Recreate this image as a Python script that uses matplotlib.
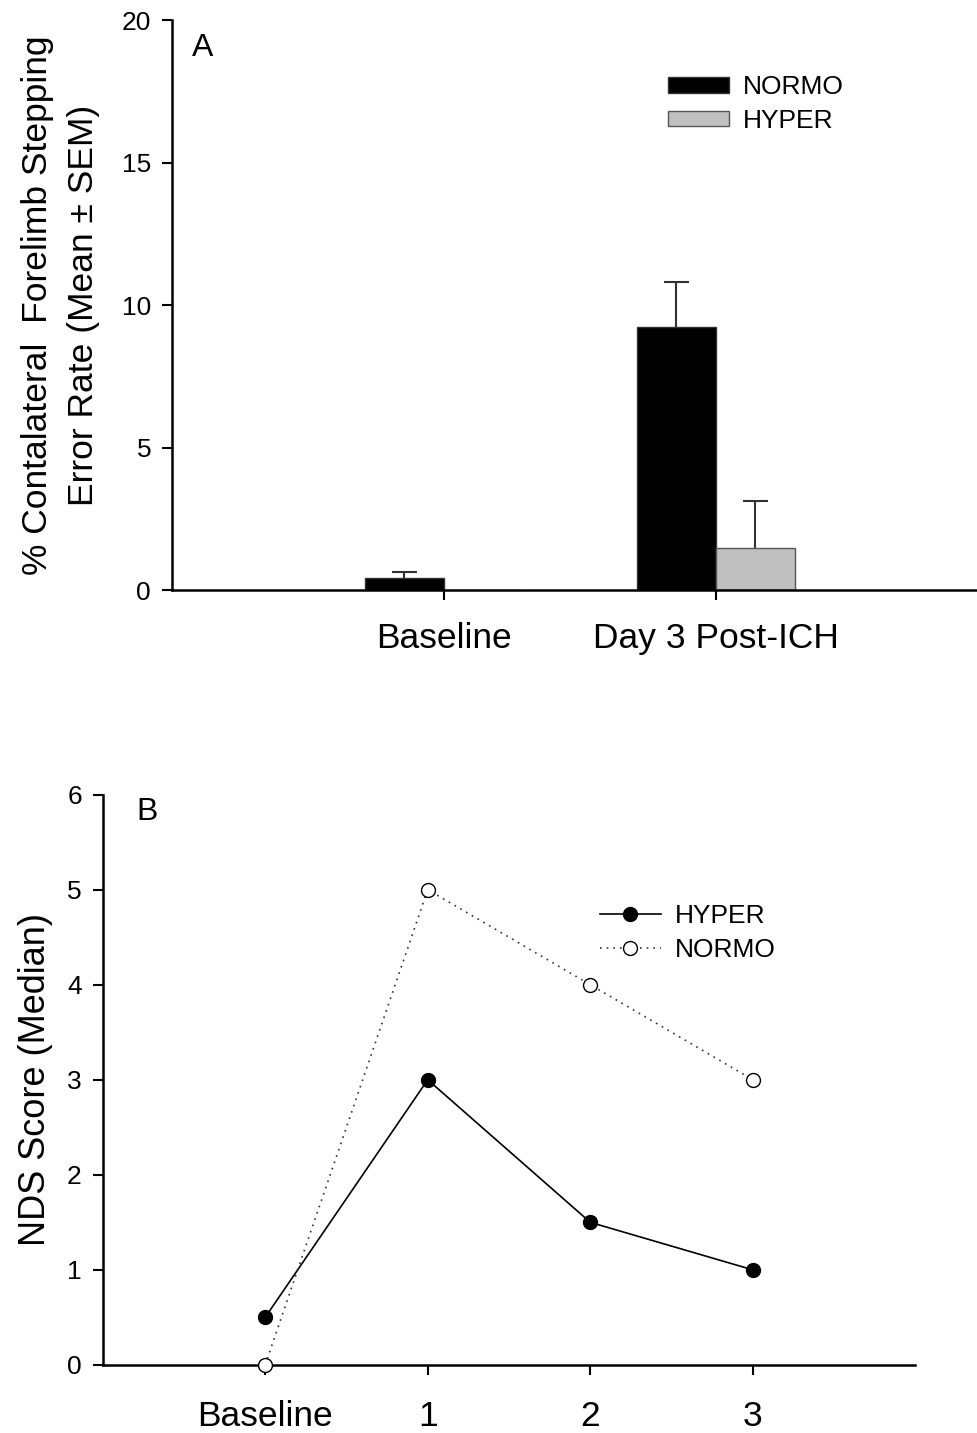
import matplotlib
matplotlib.use("Agg")
import matplotlib.pyplot as plt
import numpy as np
from matplotlib.patches import Patch

plt.rcParams['font.family'] = ['Liberation Sans', 'DejaVu Sans']

# panel A data
bar_groups = ["Baseline", "Day 3 Post-ICH"]
normo_mean = [0.42, 9.25]
normo_sem = [0.21, 1.55]
hyper_mean = [0.0, 1.5]
hyper_sem = [0.0, 1.65]

# panel B data
days = ["Baseline", "1", "2", "3"]
hyper_nds = [0.5, 3.0, 1.5, 1.0]
normo_nds = [0.0, 5.0, 4.0, 3.0]

fig = plt.figure(figsize=(9.77, 14.33), dpi=100)


def up_error(ax, xs, means, sems):
    # one-sided error bars (only the upper whisker with a cap)
    xs = np.asarray(xs)
    means = np.asarray(means)
    sems = np.asarray(sems)
    keep = sems > 0
    ax.vlines(xs[keep], means[keep], means[keep] + sems[keep], color="#333333",
              linewidth=1.5, zorder=1)
    ax.plot(xs[keep], means[keep] + sems[keep], linestyle="none", marker="_",
            markersize=18, markeredgewidth=1.5, color="#333333", zorder=1)


# ---- Panel A ----
ax1 = fig.add_axes([0.176, 0.588, 0.824, 0.398])
x = np.arange(len(bar_groups))
w = 0.29
up_error(ax1, x - w / 2, normo_mean, normo_sem)
up_error(ax1, x + w / 2, hyper_mean, hyper_sem)
ax1.bar(x - w / 2, normo_mean, w, color="black", edgecolor="#333333", linewidth=1, zorder=2)
ax1.bar(x + w / 2, hyper_mean, w, color="#c0c0c0", edgecolor="#555555", linewidth=1, zorder=2)
ax1.set_xlim(-1, 1.96)
ax1.set_ylim(0, 20)
ax1.set_yticks([0, 5, 10, 15, 20])
ax1.set_xticks(x)
ax1.set_xticklabels(bar_groups, fontsize=25.5)
ax1.tick_params(axis="y", labelsize=19, width=1.5, length=7, direction="out", pad=8)
ax1.tick_params(axis="x", width=1.5, length=7, direction="out", pad=16)
for s in ["top", "right"]:
    ax1.spines[s].set_visible(False)
for s in ["left", "bottom"]:
    ax1.spines[s].set_linewidth(1.8)
ax1.set_ylabel("% Contalateral  Forelimb Stepping\nError Rate (Mean \u00b1 SEM)", fontsize=25.5,
               labelpad=16, linespacing=1.5)
ax1.text(0.025, 0.977, "A", transform=ax1.transAxes, fontsize=23, va="top")
handles = [Patch(facecolor="black", edgecolor="#333333", label="NORMO"),
           Patch(facecolor="#c0c0c0", edgecolor="#555555", label="HYPER")]
ax1.legend(handles=handles, loc="upper left", bbox_to_anchor=(0.616, 0.903), frameon=False,
           fontsize=19, handlelength=2.3, handleheight=0.5, handletextpad=0.55,
           labelspacing=0.37, borderpad=0, borderaxespad=0)

# ---- Panel B ----
ax2 = fig.add_axes([0.105, 0.0475, 0.832, 0.398])
xb = np.arange(len(days))
ax2.plot(xb, hyper_nds, color="black", linewidth=1.2, marker="o", markersize=10,
         markerfacecolor="black", markeredgecolor="black", label="HYPER", clip_on=False, zorder=3)
ax2.plot(xb, normo_nds, color="#333333", linewidth=1.2, linestyle=(0, (1, 3)), marker="o",
         markersize=10, markerfacecolor="white", markeredgecolor="black", label="NORMO",
         clip_on=False, zorder=4)
ax2.set_xlim(-1, 4)
ax2.set_ylim(0, 6)
ax2.set_yticks(range(7))
ax2.set_xticks(xb)
ax2.set_xticklabels(days, fontsize=25.5)
ax2.tick_params(axis="y", labelsize=19, width=1.5, length=7, direction="out", pad=8)
ax2.tick_params(axis="x", width=1.5, length=7, direction="out", pad=18)
for s in ["top", "right"]:
    ax2.spines[s].set_visible(False)
for s in ["left", "bottom"]:
    ax2.spines[s].set_linewidth(1.8)
ax2.set_ylabel("NDS Score (Median)", fontsize=26, labelpad=10)
ax2.text(0.042, 0.995, "B", transform=ax2.transAxes, fontsize=23, va="top")
ax2.legend(loc="upper left", bbox_to_anchor=(0.612, 0.808), frameon=False, fontsize=19,
           handlelength=2.3, handletextpad=0.55, labelspacing=0.37, borderpad=0,
           borderaxespad=0)

fig.savefig("out.png", dpi=100)
